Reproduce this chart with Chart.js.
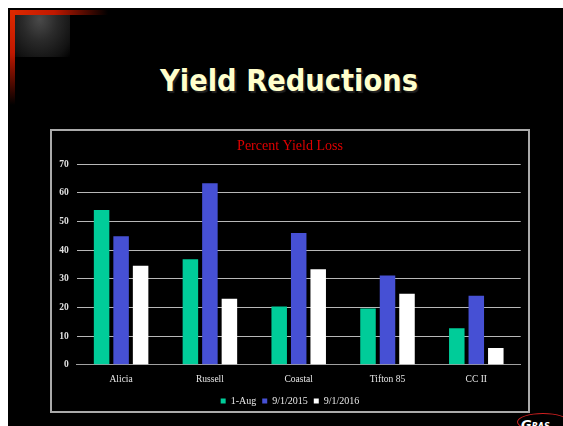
<!DOCTYPE html>
<html><head><meta charset="utf-8">
<script src="https://cdn.jsdelivr.net/npm/chart.js@4/dist/chart.umd.min.js"></script>
<style>
html,body{margin:0;padding:0;background:#fff;width:563px;height:426px;overflow:hidden;position:relative;}
#slide{position:absolute;left:8px;top:8px;width:555px;height:418px;background:#000;overflow:hidden;}
#cornerH{position:absolute;left:10px;top:10px;width:98px;height:5px;background:linear-gradient(to right,#e02a00 0%,#c01800 45%,rgba(120,10,0,0) 100%);}
#cornerV{position:absolute;left:10px;top:10px;width:5px;height:95px;background:linear-gradient(to bottom,#e02a00 0%,#c01800 45%,rgba(120,10,0,0) 100%);}
#arch{position:absolute;left:15px;top:15px;width:55px;height:42px;background:radial-gradient(ellipse at 45% 10%,#4a4a4a 0%,#2a2a2a 40%,#121212 80%,#000 100%);}
#title{position:absolute;left:289px;top:66px;white-space:nowrap;font-family:"DejaVu Sans";font-weight:bold;font-size:30px;line-height:30px;color:#ffffcc;text-shadow:2px 2px 1px #222;transform-origin:center center;}
#box{position:absolute;left:50px;top:129px;width:480px;height:284px;box-sizing:border-box;border:2px solid #aaaaaa;}
#wrap{position:absolute;left:52px;top:131px;width:476px;height:280px;}
#logo{position:absolute;left:517px;top:413px;width:52px;height:18px;box-sizing:border-box;border:1.5px solid #d02020;border-radius:50%;}
#logoText{position:absolute;left:521px;top:414px;font-family:"DejaVu Sans";font-weight:bold;font-style:italic;color:#fff;white-space:nowrap;}
</style></head><body>
<div id="slide"></div>
<div id="cornerH"></div><div id="cornerV"></div><div id="arch"></div>
<div id="title">Yield Reductions</div>
<div id="box"></div>
<div id="wrap"><canvas id="c" width="476" height="280"></canvas></div>
<div id="logo"></div>
<div id="logoText"><span style="font-size:13px">G</span><span style="font-size:8px">RAS</span></div>
<script>
const categories = ['Alicia', 'Russell', 'Coastal', 'Tifton 85', 'CC II'];
const seriesNames = ['1-Aug', '9/1/2015', '9/1/2016'];
const aug1 = [54.0, 36.8, 20.3, 19.6, 12.7];
const sep2015 = [44.9, 63.4, 46.0, 31.2, 24.1];
const sep2016 = [34.6, 23.0, 33.3, 24.8, 5.8];
const yMin = 0, yMax = 70, yStep = 10;
const chartTitle = 'Percent Yield Loss';

// fit slide title width
const t = document.getElementById('title');
const w = t.getBoundingClientRect().width;
t.style.transform = 'translateX(-50%) scaleX(' + (258 / w) + ')';

const serif = 'Liberation Serif';
new Chart(document.getElementById('c'), {
  type: 'bar',
  data: {
    labels: categories,
    datasets: [
      {label: seriesNames[0], data: aug1, backgroundColor: '#00cc99', borderWidth: 0},
      {label: seriesNames[1], data: sep2015, backgroundColor: '#4650d4', borderWidth: 0},
      {label: seriesNames[2], data: sep2016, backgroundColor: '#ffffff', borderWidth: 0}
    ]
  },
  options: {
    responsive: false, animation: false, devicePixelRatio: 1,
    datasets: {bar: {categoryPercentage: 0.659, barPercentage: 0.795}},
    layout: {padding: {left: 0, right: 0, top: 0, bottom: -5}},
    plugins: {
      title: {display: true, text: chartTitle, color: '#e00000',
        font: {family: serif, size: 14, weight: 'normal'}, padding: {top: 6.6, bottom: 9.9}},
      legend: {position: 'bottom', labels: {color: '#e8e8e8', font: {family: serif, size: 10},
        boxWidth: 5, boxHeight: 5, padding: 6}},
      tooltip: {enabled: false}
    },
    scales: {
      x: {grid: {display: false, drawTicks: false}, border: {display: true, color: '#a0a0a0', width: 1},
        ticks: {color: '#e8e8e8', font: {family: serif, size: 9.5}, padding: 8.6},
        afterFit(s) { s.height = 25.3; }},
      y: {min: yMin, max: yMax,
        ticks: {stepSize: yStep, color: '#e0e0e0', font: {family: serif, size: 9.5, weight: 'bold'}, padding: 8},
        grid: {color: '#b8b8b8', drawTicks: false}, border: {display: false},
        afterFit(s) { s.width = 24.7; }},
      yr: {position: 'right', display: true, ticks: {display: false}, grid: {display: false, drawTicks: false},
        border: {display: false}, afterFit(s) { s.width = 7.3; }}
    }
  }
});
</script>
</body></html>
